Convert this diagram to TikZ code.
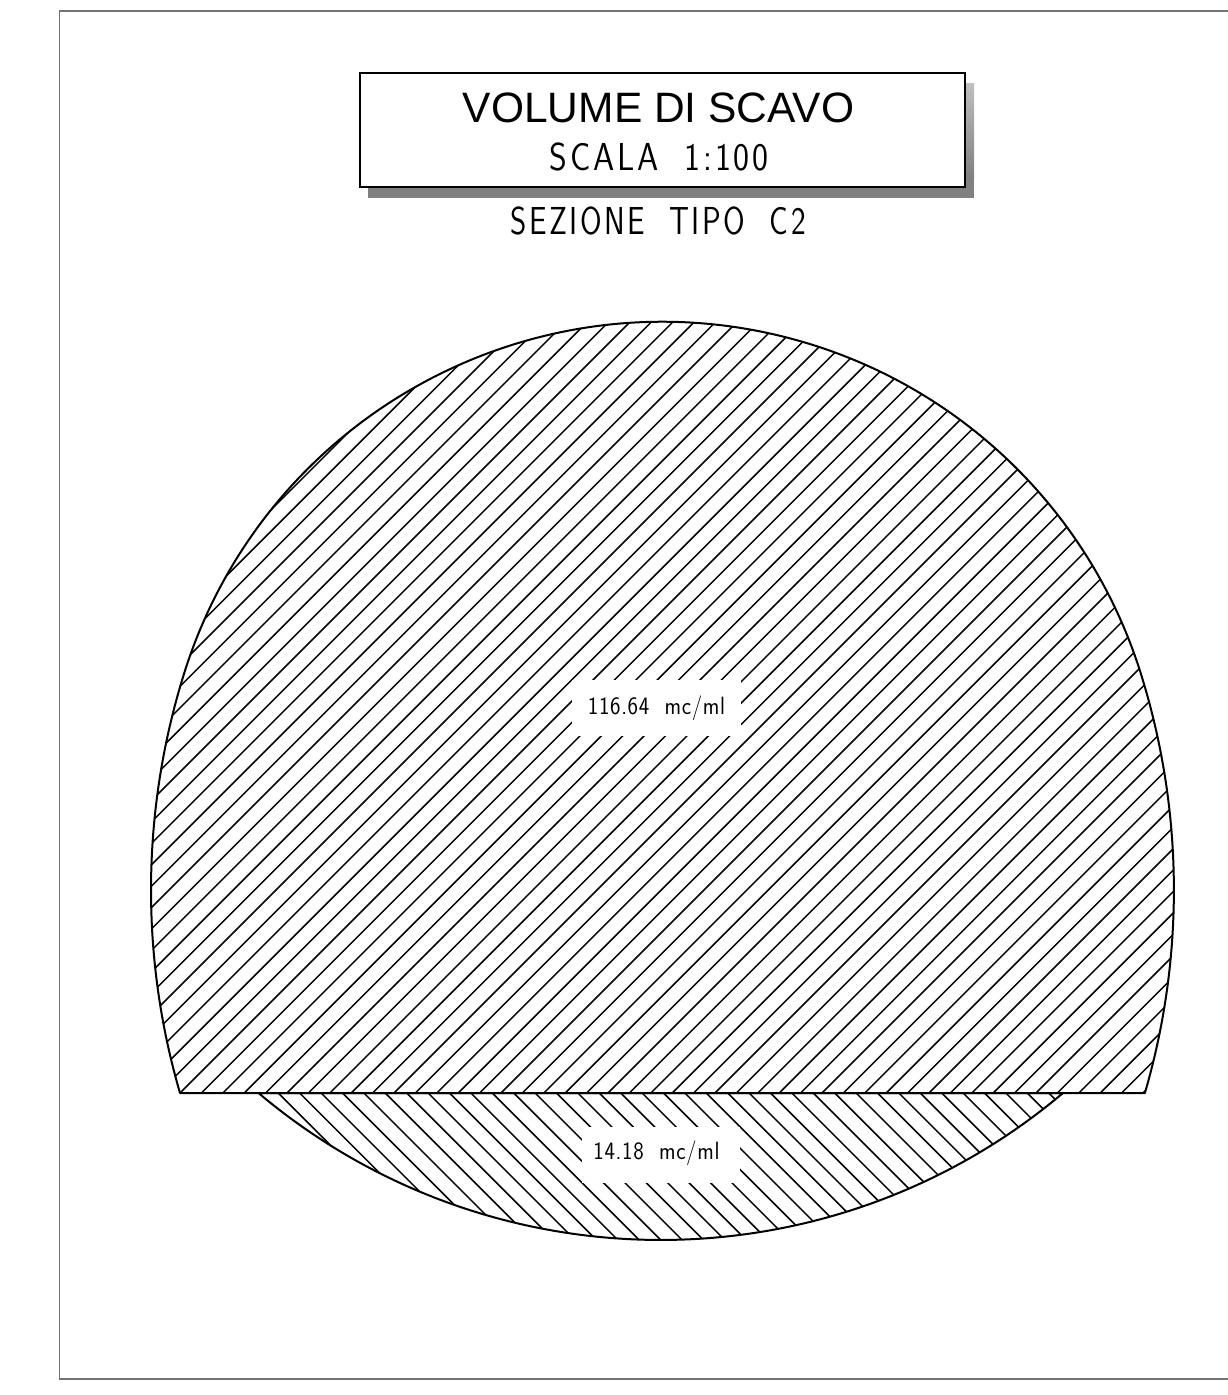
\documentclass[tikz,border=0pt]{standalone}
\usepackage{fontspec}
\setmainfont{Liberation Sans}
\newfontfamily\cadfont[LetterSpace=8,WordSpace=2]{Latin Modern Sans}
\newfontfamily\volfont[LetterSpace=3,WordSpace=2]{Latin Modern Sans}
\usetikzlibrary{positioning}

\newcommand{\domepath}{(domeL) arc (196.26:162.58:725) arc (162.58:17.42:501.2) arc (17.42:-16.26:725) -- cycle}
\newcommand{\invertpath}{(invL) arc (229.86:310.14:624) -- cycle}

\tikzset{
	cadtext/.style={font=\fontsize{39}{42}\cadfont\selectfont},
	voltext/.style={font=\fontsize{25}{28}\volfont\selectfont,xscale=.89},
	hatchline/.style={line width=1.5pt,black},
	outline/.style={line width=2pt,black,line join=round}
}

\begin{document}
\begin{tikzpicture}[x=1pt,y=1pt]

\useasboundingbox (0,0) rectangle (1228,-1395);

\coordinate (domeL) at (180,-1093);
\coordinate (invL)  at (258.5,-1093);

\draw[line width=1.4pt,black!55] (1228,-11) -- (59.5,-11) -- (59.5,-1379) -- (1228,-1379);

% title box
\fill[black!50] (368,-83) rectangle (974,-198);
\shade[top color=black!25,bottom color=black!50] (960,-83) rectangle (974,-178);
\node[draw,line width=2pt,fill=white,minimum width=605pt,minimum height=114pt,inner sep=0pt] (titlebox) at (662,-129.5) {};
\node[font=\fontsize{42.5}{46}\selectfont] (title) at (658.5,-107.5) {VOLUME DI SCAVO};
\node[cadtext,xscale=.87] (scala) at (659,-157) {SCALA 1:100};
\node[cadtext,xscale=.8] (sezione) at (658,-221) {SEZIONE TIPO C2};

% hatching
\begin{scope}
\clip \domepath;
\foreach \k in {-23,...,45}
	\draw[hatchline] (180+21.4*\k,-1093) -- ++(900,900);
\end{scope}

\begin{scope}
\clip \invertpath;
\foreach \k in {0,...,36}
	\draw[hatchline] (278.3+21.4*\k,-1093) -- ++(200,-200);
\end{scope}

\draw[outline] \invertpath;
\draw[outline] \domepath;

% quantities
\fill[white] (572,-680) rectangle (741,-736);
\fill[white] (582,-1127) rectangle (740,-1183);
\node[voltext] (volA) at (656.5,-708) {116.64 mc/ml};
\node[voltext] (volB) at (656.5,-1153) {14.18 mc/ml};

\end{tikzpicture}
\end{document}
